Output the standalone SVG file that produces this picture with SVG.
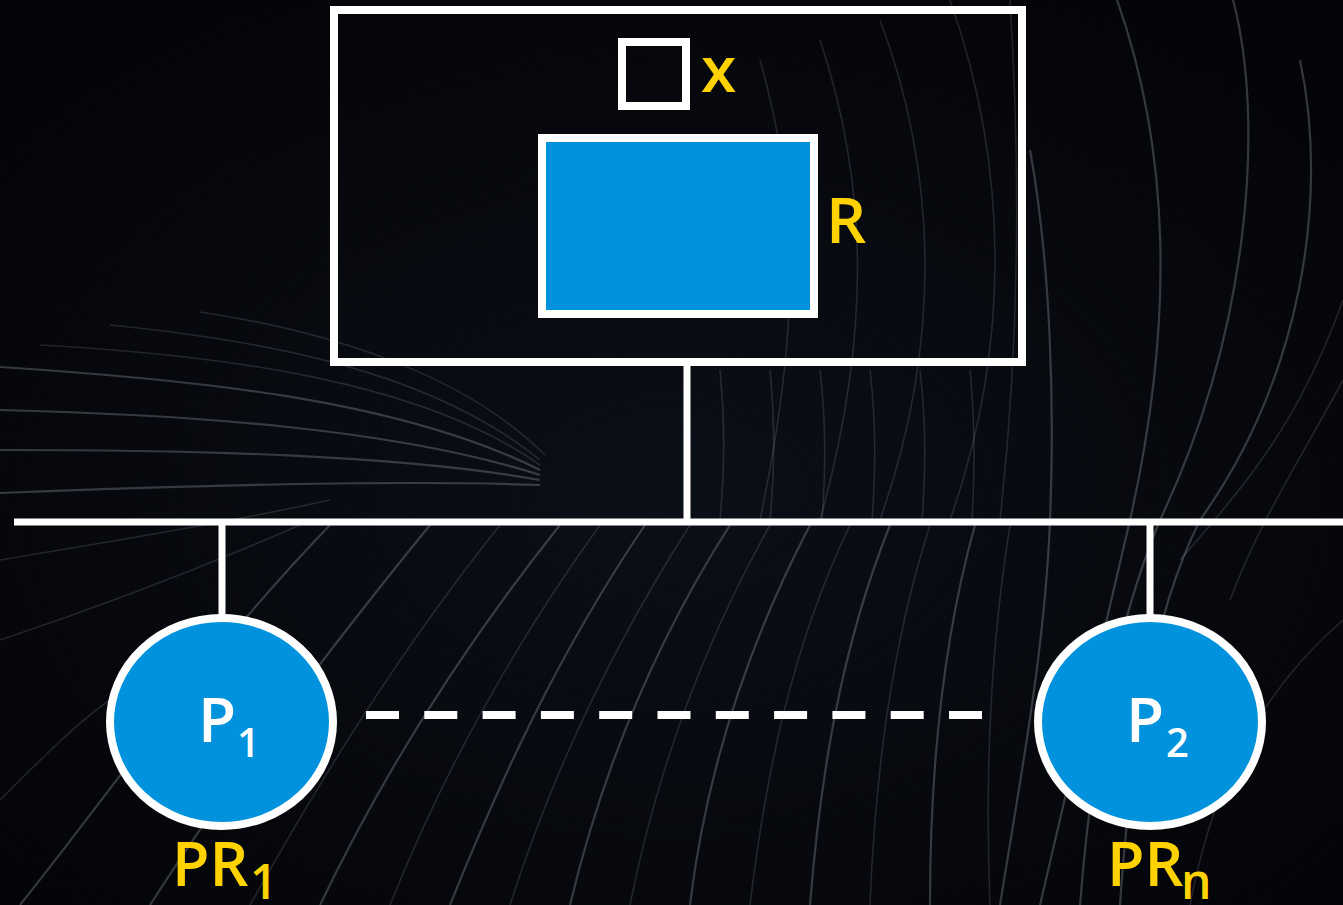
<svg xmlns="http://www.w3.org/2000/svg" width="1343" height="905" viewBox="0 0 1343 905">
  <defs>
    <radialGradient id="bgGrad" cx="0.5" cy="0.55" r="0.7">
      <stop offset="0" stop-color="#0b0f17"/>
      <stop offset="1" stop-color="#030407"/>
    </radialGradient>
    <style>
      .wave { fill: none; stroke: #a4acb5; stroke-width: 2.2; stroke-opacity: 0.3; }
      .waveFaint { fill: none; stroke: #a4acb5; stroke-width: 1.6; stroke-opacity: 0.18; }
      .frame { fill: none; stroke: #ffffff; stroke-width: 8; }
      .blue { fill: #0092dc; stroke: #ffffff; stroke-width: 8; }
      .conn { fill: none; stroke: #ffffff; stroke-width: 7; }
      .dash { fill: none; stroke: #ffffff; stroke-width: 8; stroke-dasharray: 33 25.3; }
      .lbl { font-family: "Open Sans", "Noto Sans", sans-serif; font-weight: 600; fill: #ffd200; }
      .in { font-family: "Open Sans", "Noto Sans", sans-serif; font-weight: 600; fill: #ffffff; }
    </style>
  </defs>

  <!-- background scene -->
  <g id="background">
    <rect x="0" y="0" width="1343" height="905" fill="url(#bgGrad)"/>
    <path class="wave" d="M1117 0 C1170 150 1175 320 1130 520 C1100 650 1070 780 1040 905"/>
    <path class="wave" d="M1233 0 C1265 120 1250 330 1160 520 C1110 640 1090 780 1080 905"/>
    <path class="wave" d="M1030 150 C1050 260 1055 400 1050 520 C1045 650 1020 780 1000 905"/>
    <path class="wave" d="M1300 60 C1330 200 1300 380 1200 520 C1150 620 1130 760 1120 905"/>
    <path class="waveFaint" d="M1343 300 C1300 420 1250 480 1180 560"/>
    <path class="waveFaint" d="M1343 380 C1300 460 1260 520 1230 600"/>
    <path class="waveFaint" d="M760 60 C800 200 800 330 760 520"/>
    <path class="waveFaint" d="M820 40 C870 190 870 340 820 520"/>
    <path class="waveFaint" d="M880 20 C940 180 940 350 880 520"/>
    <path class="waveFaint" d="M950 0 C1010 170 1010 350 950 520"/>
    <path class="waveFaint" d="M1010 0 C1020 160 1020 340 1000 520"/>
    <path class="waveFaint" d="M720 370 C725 420 725 470 720 520"/>
    <path class="waveFaint" d="M770 370 C775 420 775 470 770 520"/>
    <path class="waveFaint" d="M820 370 C826 420 826 470 822 520"/>
    <path class="waveFaint" d="M870 370 C876 420 876 470 872 520"/>
    <path class="waveFaint" d="M920 370 C926 420 926 470 922 520"/>
    <path class="waveFaint" d="M970 370 C975 420 975 470 972 520"/>
    <path class="wave" d="M0 367 C200 380 400 400 540 470"/>
    <path class="wave" d="M0 410 C200 415 400 430 540 475"/>
    <path class="wave" d="M0 450 C200 450 400 455 540 480"/>
    <path class="wave" d="M0 493 C200 485 400 480 540 485"/>
    <path class="waveFaint" d="M40 345 C220 355 420 380 540 465"/>
    <path class="waveFaint" d="M110 325 C260 340 430 370 540 460"/>
    <path class="waveFaint" d="M200 312 C320 330 460 370 545 455"/>
    <path class="waveFaint" d="M0 560 C120 540 240 520 330 500"/>
    <path class="waveFaint" d="M0 640 C120 600 220 560 300 525"/>
    <path class="wave" d="M20 905 C120 780 200 660 330 525"/>
    <path class="wave" d="M150 905 C230 780 320 660 430 525"/>
    <path class="waveFaint" d="M250 905 C320 780 400 650 500 525"/>
    <path class="wave" d="M320 905 C380 780 460 650 560 525"/>
    <path class="waveFaint" d="M390 905 C440 780 510 650 600 525"/>
    <path class="wave" d="M450 905 C500 780 560 650 645 525"/>
    <path class="waveFaint" d="M510 905 C550 780 610 650 690 525"/>
    <path class="wave" d="M570 905 C600 780 650 650 730 525"/>
    <path class="waveFaint" d="M630 905 C655 780 700 650 770 525"/>
    <path class="wave" d="M690 905 C705 780 745 650 810 525"/>
    <path class="waveFaint" d="M750 905 C765 780 790 650 850 525"/>
    <path class="wave" d="M810 905 C820 780 840 650 890 525"/>
    <path class="waveFaint" d="M870 905 C875 780 890 650 930 525"/>
    <path class="wave" d="M930 905 C930 780 940 650 975 525"/>
    <path class="waveFaint" d="M990 905 C985 780 990 650 1010 525"/>
    <path class="waveFaint" d="M1190 905 C1210 800 1250 700 1343 620"/>
    <path class="waveFaint" d="M0 800 C40 760 80 720 110 700"/>
  </g>

  <!-- connectors -->
  <g id="connectors">
    <line class="conn" x1="687" y1="366" x2="687" y2="522"/>
    <line class="conn" x1="14" y1="522" x2="1343" y2="522" stroke-width="8"/>
    <line class="conn" x1="222" y1="522" x2="222" y2="616"/>
    <line class="conn" x1="1150" y1="522" x2="1150" y2="616"/>
    <line class="dash" x1="366" y1="715" x2="982" y2="715"/>
  </g>

  <g id="node-memory">
    <rect class="frame" x="334" y="10" width="688" height="352"/>
  </g>

  <g id="node-x">
    <rect class="frame" x="622" y="42" width="64" height="64"/>
    <text class="lbl" x="701" y="92" font-size="64">x</text>
  </g>

  <g id="node-R">
    <rect class="blue" x="542" y="138" width="272" height="176"/>
    <text class="lbl" x="826" y="243" font-size="63">R</text>
  </g>

  <g id="node-P1">
    <ellipse class="blue" cx="221.5" cy="722" rx="111.5" ry="104"/>
    <text class="in" font-size="62"><tspan x="198" y="742">P</tspan><tspan x="237" y="757" font-size="40">1</tspan></text>
    <text class="lbl" font-size="61"><tspan x="172" y="886">PR</tspan><tspan x="250" y="899" font-size="48">1</tspan></text>
  </g>

  <g id="node-P2">
    <ellipse class="blue" cx="1150" cy="722" rx="112" ry="104"/>
    <text class="in" font-size="62"><tspan x="1126" y="742">P</tspan><tspan x="1166" y="757" font-size="40">2</tspan></text>
    <text class="lbl" font-size="61"><tspan x="1107" y="886">PR</tspan><tspan x="1181" y="899" font-size="48">n</tspan></text>
  </g>
</svg>
